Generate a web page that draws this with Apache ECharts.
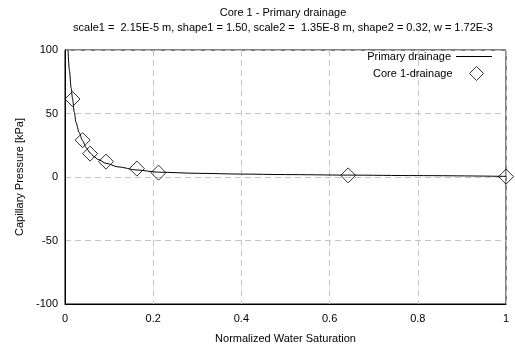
<!DOCTYPE html>
<html>
<head>
<meta charset="utf-8">
<script src="https://cdn.jsdelivr.net/npm/echarts@6/dist/echarts.min.js"></script>
<style>
    html, body { margin: 0; padding: 0; background: #fff; }
    #chart { width: 515px; height: 350px; }
</style>
</head>
<body>
<div id="chart"></div>
<script>
// 测点数据
var coreSw = [0.017, 0.040, 0.057, 0.093, 0.163, 0.212, 0.642, 1.0];
var corePc = [61.4, 29.0, 18.4, 12.1, 6.6, 3.4, 1.3, 0.3];

// 拟合曲线
var fitSw = [0.0068, 0.010, 0.014, 0.017, 0.021, 0.025, 0.032, 0.040, 0.048, 0.057, 0.066, 0.075, 0.093, 0.12, 0.163, 0.212, 0.3, 0.4, 0.5, 0.64, 0.8, 1.0];
var fitPc = [100, 84, 70, 62, 51, 43, 35, 28.5, 23, 19, 16, 13.8, 10.8, 8.0, 5.5, 3.8, 2.9, 2.3, 1.9, 1.5, 1.1, 0.5];

var xTicks = { min: 0, max: 1, interval: 0.2 };
var yTicks = { min: -100, max: 100, interval: 50 };

var myChart = echarts.init(document.getElementById('chart'));

var font = 'Liberation Sans, Arial, sans-serif';
var axisText = { color: '#000', fontSize: 11, fontFamily: font };
var gridLine = { show: true, lineStyle: { color: '#c4c4c4', type: [6, 4], width: 1 } };

var option = {
    backgroundColor: '#fff',
    animation: false,
    title: {
        text: 'Core 1 - Primary drainage',
        subtext: 'scale1 =  2.15E-5 m, shape1 = 1.50, scale2 =  1.35E-8 m, shape2 = 0.32, w = 1.72E-3',
        left: 283,
        top: 7,
        textAlign: 'center',
        itemGap: 4,
        padding: 0,
        textStyle: { color: '#000', fontSize: 11, fontWeight: 'normal', fontFamily: font },
        subtextStyle: { color: '#000', fontSize: 11, fontFamily: font }
    },
    // 两个图例，分别控制线和菱形的图标尺寸
    legend: [
        {
            orient: 'vertical',
            right: 23,
            top: 51,
            align: 'right',
            itemWidth: 36,
            itemHeight: 14,
            padding: 0,
            textStyle: { color: '#000', fontSize: 11, fontFamily: font, padding: 0 },
            data: [{ name: 'Primary drainage', icon: 'path://M0,0L36,0L36,1L0,1Z', itemStyle: { color: '#000' } }]
        },
        {
            orient: 'vertical',
            right: 31,
            top: 66,
            align: 'right',
            itemWidth: 14,
            itemHeight: 14,
            padding: 0,
            itemStyle: { borderWidth: 1, borderColor: '#000', color: 'rgba(255,255,255,0)' },
            textStyle: { color: '#000', fontSize: 11, fontFamily: font, padding: [0, 12, 0, 0] },
            data: ['Core 1-drainage']
        }
    ],
    grid: {
        left: 65,
        right: 9,
        top: 50,
        bottom: 46,
        show: true,
        borderColor: '#000',
        borderWidth: 1,
        backgroundColor: 'transparent'
    },
    xAxis: {
        type: 'value',
        min: xTicks.min,
        max: xTicks.max,
        interval: xTicks.interval,
        name: 'Normalized Water Saturation',
        nameLocation: 'middle',
        nameGap: 29,
        nameTextStyle: axisText,
        axisLine: { onZero: false, lineStyle: { color: '#000', width: 1 } },
        axisTick: { show: false },
        axisLabel: Object.assign({ margin: 9 }, axisText),
        splitLine: gridLine
    },
    yAxis: {
        type: 'value',
        min: yTicks.min,
        max: yTicks.max,
        interval: yTicks.interval,
        name: 'Capillary Pressure [kPa]',
        nameLocation: 'middle',
        nameGap: 33,
        nameTextStyle: axisText,
        axisLine: { show: true, onZero: false, lineStyle: { color: '#000', width: 1 } },
        axisTick: { show: false },
        axisLabel: Object.assign({ margin: 7 }, axisText),
        splitLine: gridLine
    },
    series: [
        {
            name: 'Primary drainage',
            type: 'line',
            smooth: 0.3,
            smoothMonotone: 'x',
            symbol: 'none',
            clip: true,
            lineStyle: { color: '#000', width: 1 },
            itemStyle: { color: '#000' },
            data: fitSw.map(function (x, i) { return [x, fitPc[i]]; })
        },
        {
            name: 'Core 1-drainage',
            type: 'scatter',
            symbol: 'diamond',
            symbolSize: 15,
            itemStyle: { color: 'rgba(255,255,255,0)', borderColor: '#000', borderWidth: 1 },
            z: 3,
            data: coreSw.map(function (x, i) { return [x, corePc[i]]; })
        }
    ]
};

myChart.setOption(option);
</script>
</body>
</html>
